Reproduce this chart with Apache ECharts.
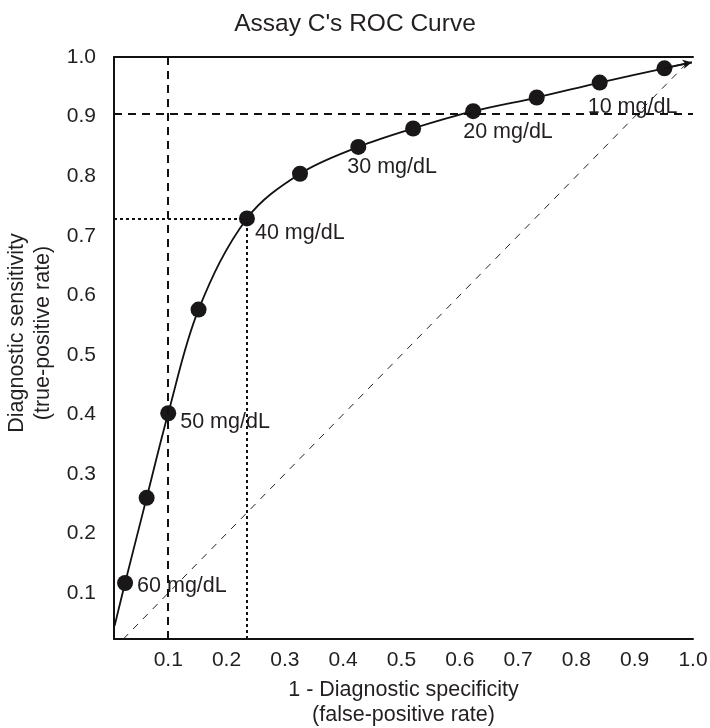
<!DOCTYPE html>
<html>
<head>
<meta charset="utf-8">
<script src="https://cdn.jsdelivr.net/npm/echarts@6/dist/echarts.min.js"></script>
<style>
html,body{margin:0;padding:0;background:#fff;}
#chart{width:710px;height:728px;}
</style>
</head>
<body>
<div id="chart"></div>
<script>
// ---- data ----
const xTicks = [0.1, 0.2, 0.3, 0.4, 0.5, 0.6, 0.7, 0.8, 0.9, 1.0];
const yTicks = [0.1, 0.2, 0.3, 0.4, 0.5, 0.6, 0.7, 0.8, 0.9, 1.0];
const fpr = [0.026, 0.063, 0.100, 0.152, 0.235, 0.326, 0.426, 0.520, 0.623, 0.732, 0.840, 0.951];
const tpr = [0.117, 0.260, 0.402, 0.576, 0.729, 0.804, 0.849, 0.880, 0.909, 0.932, 0.957, 0.981];
const cutoffLabels = ['60 mg/dL', '', '50 mg/dL', '', '40 mg/dL', '', '30 mg/dL', '', '20 mg/dL', '', '10 mg/dL', ''];
const curveStart = [0.008, 0.045];
const curveEnd = [0.998, 0.991];
const specRef = 0.1;        // dashed vertical
const sensRef = 0.905;      // dashed horizontal
const operatingIndex = 4;   // 40 mg/dL, dotted lines
const chanceLine = [[0.023, 0.023], [0.993, 0.993]];
const xMin = 0.007, xMax = 1.0, yMin = 0.023, yMax = 1.0;

// ---- chart ----
const FONT = '"Liberation Sans", Arial, Helvetica, sans-serif';
const TXT = '#231f20';
const chart = echarts.init(document.getElementById('chart'), null, {renderer: 'canvas'});

const labelLayout = {
  0: {offset: [12, 3]},
  2: {offset: [12, 9]},
  4: {offset: [8, 15]},
  6: {offset: [-11, 20]},
  8: {offset: [-10, 21]},
  10: {offset: [-12, 24]}
};

const pts = fpr.map((x, i) => {
  const d = {value: [x, tpr[i]]};
  if (cutoffLabels[i]) {
    d.label = {
      show: true,
      formatter: cutoffLabels[i],
      position: 'inside',
      align: 'left',
      verticalAlign: 'middle',
      offset: labelLayout[i].offset,
      color: TXT,
      fontSize: 21.5,
      fontFamily: FONT
    };
  }
  return d;
});

const curve = [curveStart].concat(fpr.map((x, i) => [x, tpr[i]])).concat([curveEnd]);
const op = [fpr[operatingIndex], tpr[operatingIndex]];
const last = curve[curve.length - 2];

const option = {
  backgroundColor: '#fff',
  animation: false,
  title: {
    text: "Assay C's ROC Curve",
    left: 'center',
    top: 7,
    textStyle: {fontSize: 24.5, fontWeight: 'normal', color: TXT, fontFamily: FONT}
  },
  grid: {left: 114, right: 17, top: 57, bottom: 89, containLabel: false, outerBoundsMode: 'none'},
  xAxis: [{
    type: 'value', min: xMin, max: xMax, position: 'bottom',
    name: '1 - Diagnostic specificity\n(false-positive rate)',
    nameLocation: 'middle', nameGap: 39,
    nameTextStyle: {fontSize: 21.5, color: TXT, fontFamily: FONT, lineHeight: 25},
    axisLine: {show: true, onZero: false, lineStyle: {color: '#111', width: 2}},
    axisTick: {show: false},
    splitLine: {show: false},
    axisLabel: {customValues: xTicks, formatter: v => v.toFixed(1), fontSize: 21, color: TXT, fontFamily: FONT, margin: 11}
  }, {
    type: 'value', min: xMin, max: xMax, position: 'top',
    axisLine: {show: true, onZero: false, lineStyle: {color: '#111', width: 2}},
    axisTick: {show: false}, splitLine: {show: false}, axisLabel: {show: false}
  }],
  yAxis: {
    type: 'value', min: yMin, max: yMax,
    name: 'Diagnostic sensitivity\n(true-positive rate)',
    nameLocation: 'middle', nameGap: 51,
    nameTextStyle: {fontSize: 21.5, color: TXT, fontFamily: FONT, lineHeight: 26, padding: [0, 0, 0, 30]},
    axisLine: {show: true, onZero: false, lineStyle: {color: '#111', width: 2}},
    axisTick: {show: false},
    splitLine: {show: false},
    axisLabel: {customValues: yTicks, formatter: v => v.toFixed(1), fontSize: 21, color: TXT, fontFamily: FONT, margin: 18}
  },
  series: [
    {
      type: 'line', data: [], silent: true,
      markLine: {
        silent: true, symbol: 'none', label: {show: false}, animation: false,
        data: [
          [{coord: chanceLine[0], lineStyle: {type: [7, 7], width: 1, color: '#222'}}, {coord: chanceLine[1]}],
          [{coord: [specRef, yMin], lineStyle: {type: [8, 6], width: 2, color: '#111'}}, {coord: [specRef, yMax]}],
          [{coord: [xMin, sensRef], lineStyle: {type: [8, 6], width: 2, color: '#111'}}, {coord: [xMax, sensRef]}],
          [{coord: [xMin, op[1]], lineStyle: {type: [3, 3], width: 2, color: '#111'}}, {coord: op}],
          [{coord: [op[0], yMin], lineStyle: {type: [3, 3], width: 2, color: '#111'}}, {coord: op}]
        ]
      }
    },
    {
      type: 'line', data: curve, smooth: 0.35, symbol: 'none', silent: true,
      lineStyle: {color: '#111', width: 1.8},
      markLine: {
        silent: true, symbol: ['none', 'arrow'], symbolSize: [7, 9], label: {show: false},
        lineStyle: {color: '#111', width: 1.6, type: 'solid'},
        data: [[{coord: last}, {coord: curveEnd}]]
      },
      z: 3
    },
    {
      type: 'scatter', data: pts, symbol: 'circle', symbolSize: 16, silent: true,
      itemStyle: {color: '#1a1718', opacity: 1},
      label: {opacity: 1},
      z: 4
    }
  ]
};
chart.setOption(option);
</script>
</body>
</html>
